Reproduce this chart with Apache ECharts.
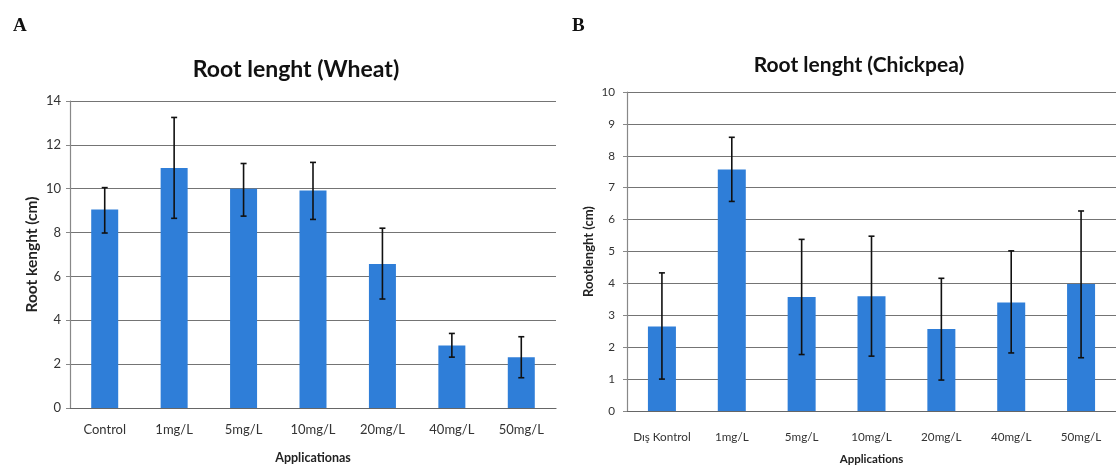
<!DOCTYPE html>
<html><head><meta charset="utf-8">
<script src="https://cdn.jsdelivr.net/npm/echarts@6/dist/echarts.min.js"></script>
<style>html,body{margin:0;padding:0;background:#fff}#c{width:1116px;height:470px}</style>
</head><body><div id="c"></div>
<script>
const catsA = ['Control','1mg/L','5mg/L','10mg/L','20mg/L','40mg/L','50mg/L'];
const valsA = [9.05, 10.95, 10.0, 9.92, 6.57, 2.85, 2.32];
const errLowA = [7.98, 8.65, 8.75, 8.6, 4.97, 2.32, 1.38];
const errHighA = [10.05, 13.25, 11.15, 11.2, 8.2, 3.4, 3.25];

const catsB = ['Dış Kontrol','1mg/L','5mg/L','10mg/L','20mg/L','40mg/L','50mg/L'];
const valsB = [2.65, 7.57, 3.57, 3.6, 2.57, 3.4, 3.98];
const errLowB = [1.0, 6.57, 1.77, 1.72, 0.97, 1.82, 1.67];
const errHighB = [4.33, 8.58, 5.38, 5.48, 4.16, 5.02, 6.27];

const yTicksA = {min:0, max:14, interval:2};
const yTicksB = {min:0, max:10, interval:1};

const FONT = 'Lato';
const barColor = '#2F7ED8';
const gridColor = '#747474';

function errSeries(xi, yi, low, high){
  return {
    type:'custom', xAxisIndex:xi, yAxisIndex:yi, z:5,
    data: low.map((l,i)=>[i,l,high[i]]),
    renderItem:function(params, api){
      const lo = api.coord([api.value(0), api.value(1)]);
      const hi = api.coord([api.value(0), api.value(2)]);
      const cw = 3;
      const st = {stroke:'#111', lineWidth:1.6};
      return {type:'group', children:[
        {type:'line', shape:{x1:lo[0],y1:lo[1],x2:hi[0],y2:hi[1]}, style:st},
        {type:'line', shape:{x1:lo[0]-cw,y1:lo[1],x2:lo[0]+cw,y2:lo[1]}, style:st},
        {type:'line', shape:{x1:hi[0]-cw,y1:hi[1],x2:hi[0]+cw,y2:hi[1]}, style:st}
      ]};
    }
  };
}

function xAxis(cats, gi, name, margin, nameGap, fs, nfs){
  return {
    type:'category', gridIndex:gi, data:cats,
    name:name, nameLocation:'middle', nameGap:nameGap,
    nameTextStyle:{fontFamily:FONT, fontWeight:'bold', fontSize:nfs, color:'#222'},
    axisLine:{lineStyle:{color:'#666', width:1.2}},
    axisTick:{show:false},
    axisLabel:{fontFamily:FONT, fontSize:fs, color:'#333', margin:margin, interval:0}
  };
}
function yAxis(t, gi, name, nameGap, margin, fs, nfs){
  return {
    type:'value', gridIndex:gi, min:t.min, max:t.max, interval:t.interval,
    name:name, nameLocation:'middle', nameGap:nameGap,
    nameTextStyle:{fontFamily:FONT, fontWeight:'bold', fontSize:nfs, color:'#222'},
    axisLine:{show:true, lineStyle:{color:'#888', width:1.2}},
    axisTick:{show:true, length:4, lineStyle:{color:'#888'}},
    axisLabel:{fontFamily:FONT, fontSize:fs, color:'#333', margin:margin},
    splitLine:{show:true, lineStyle:{color:gridColor, width:1}}
  };
}

const chart = echarts.init(document.getElementById('c'), null, {renderer:'canvas'});
chart.setOption({
  animation:false,
  backgroundColor:'#fff',
  title:[
    {text:'A', left:8, top:12, textStyle:{fontFamily:'Liberation Serif', fontWeight:'bold', fontSize:19, color:'#111'}},
    {text:'B', left:567, top:12, textStyle:{fontFamily:'Liberation Serif', fontWeight:'bold', fontSize:19, color:'#111'}},
    {text:'Root lenght (Wheat)', left:291, top:53, textAlign:'center', textStyle:{fontFamily:FONT, fontWeight:'bold', fontSize:23, color:'#111'}},
    {text:'Root lenght (Chickpea)', left:854, top:50, textAlign:'center', textStyle:{fontFamily:FONT, fontWeight:'bold', fontSize:21, color:'#111'}}
  ],
  grid:[
    {left:70, top:101, width:486, height:307},
    {left:627, top:92, width:500, height:328}
  ],
  xAxis:[
    xAxis(catsA, 0, 'Applicationas', 15, 43, 13, 12.5),
    xAxis(catsB, 1, 'Applications', 20, 42, 11.7, 11.5)
  ],
  yAxis:[
    yAxis(yTicksA, 0, 'Root kenght (cm)', 30, 9, 13, 15.5),
    yAxis(yTicksB, 1, 'Rootlenght (cm)', 32, 12, 11.7, 13)
  ],
  series:[
    {type:'bar', xAxisIndex:0, yAxisIndex:0, data:valsA, barWidth:27, itemStyle:{color:barColor}},
    {type:'bar', xAxisIndex:1, yAxisIndex:1, data:valsB, barWidth:28, itemStyle:{color:barColor}},
    errSeries(0,0,errLowA,errHighA),
    errSeries(1,1,errLowB,errHighB)
  ]
});
</script></body></html>
